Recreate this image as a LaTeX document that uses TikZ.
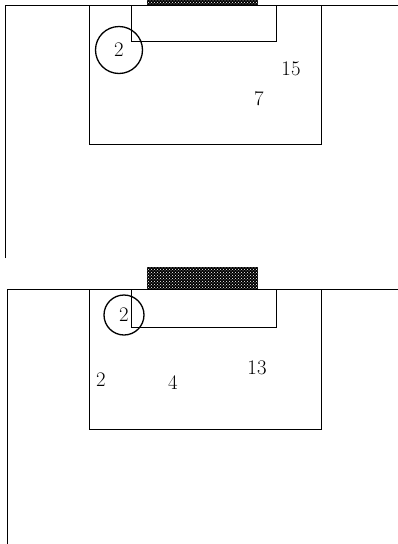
\documentclass[tikz,border=0pt]{standalone}
\usetikzlibrary{patterns}

\newcommand*{\wellleft}{89}
\newcommand*{\wellright}{321}
\newcommand*{\gateleft}{131}
\newcommand*{\gateright}{276}
\newcommand*{\padleft}{147}
\newcommand*{\padright}{258}

\begin{document}
\begin{tikzpicture}
[
	x=1pt,y=-1pt,
	outline/.style={draw,black,line width=0.9pt},
	pad/.style={fill=black,postaction={pattern=crosshatch dots,pattern color=white}},
	ring/.style={circle,draw,line width=1.3pt,inner sep=0pt,font=\huge},
	hand/.style={font=\huge}
]
	\useasboundingbox (0,0) rectangle (398,544);

	% top section
	\fill[pad] (\padleft,0) rectangle (\padright,5);
	\draw[outline] (5,258) -- (5,5) -- (398,5);
	\draw[outline] (\wellleft,5) -- (\wellleft,144) -- (\wellright,144) -- (\wellright,5);
	\draw[outline] (\gateleft,5) -- (\gateleft,41) -- (\gateright,41) -- (\gateright,5);
	\node[ring,minimum size=47pt] (topring) at (119,50) {2};
	\node[hand] (topseven) at (259,99) {7};
	\node[hand] (topfifteen) at (291,69) {15};

	% bottom section
	\fill[pad] (\padleft,267) rectangle (\padright,289);
	\draw[outline] (7,544) -- (7,289) -- (398,289);
	\draw[outline] (\wellleft,289) -- (\wellleft,429) -- (\wellright,429) -- (\wellright,289);
	\draw[outline] (\gateleft,289) -- (\gateleft,327) -- (\gateright,327) -- (\gateright,289);
	\node[ring,minimum size=40pt] (botring) at (124,315) {2};
	\node[hand] (bottwo) at (101,380) {2};
	\node[hand] (botfour) at (173,383) {4};
	\node[hand] (botthirteen) at (257,368) {13};

\end{tikzpicture}
\end{document}
